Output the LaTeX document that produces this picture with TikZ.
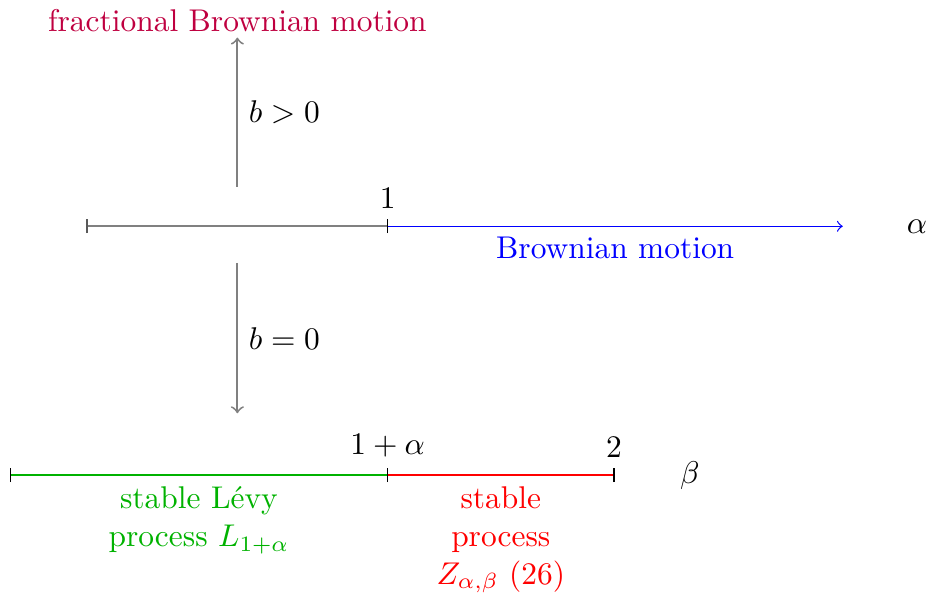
\documentclass[tikz,border=0pt]{standalone}
\usepackage{tikz}
\begin{document}
\begin{tikzpicture}[>=to, scale=0.955]
\useasboundingbox (0,0) rectangle (10.88,6.97);
% eixo alpha
\coordinate (aL) at (1.02,4.32);
\coordinate (aM) at (4.54,4.32);
\coordinate (aR) at (9.87,4.32);
\draw[gray, semithick] (aL) -- (aM);
\draw[->, blue] (aM) -- (aR) node[midway, below] {Brownian motion};
\draw[gray!70!black] (aL) ++(0,-2.3pt) -- ++(0,4.6pt);
\draw (aM) ++(0,-2.3pt) -- ++(0,4.6pt) node[above] {$1$};
\node (alpha) at (10.74,4.32) {$\alpha$};
% eixo beta
\coordinate (bL) at (0.12,1.405);
\coordinate (bM) at (4.54,1.405);
\coordinate (bR) at (7.19,1.405);
\draw[green!70!black, thick] (bL) -- (bM) node[midway, below, align=center] {stable L\'evy\\process $L_{1+\alpha}$};
\draw[red, thick] (bM) -- (bR) node[midway, below, align=center] {stable\\process\\$Z_{\alpha,\beta}$ (26)};
\draw (bL) ++(0,-2.3pt) -- ++(0,4.6pt);
\draw (bM) ++(0,-2.3pt) -- ++(0,4.6pt) node[above] {$1+\alpha$};
\draw (bR) ++(0,-2.3pt) -- ++(0,4.6pt) node[above] {$2$};
\node (beta) at (8.08,1.405) {$\beta$};
% setas
\coordinate (up0) at (2.78,4.78);
\coordinate (up1) at (2.78,6.53);
\coordinate (dn0) at (2.78,3.89);
\coordinate (dn1) at (2.78,2.13);
\draw[->, gray, semithick] (up0) -- (up1) node[midway, right, black] {$b>0$};
\node[above, purple, inner sep=1.5pt] (fbm) at (up1) {fractional Brownian motion};
\draw[->, gray, semithick] (dn0) -- (dn1) node[midway, right, black] {$b=0$};
\end{tikzpicture}
\end{document}
